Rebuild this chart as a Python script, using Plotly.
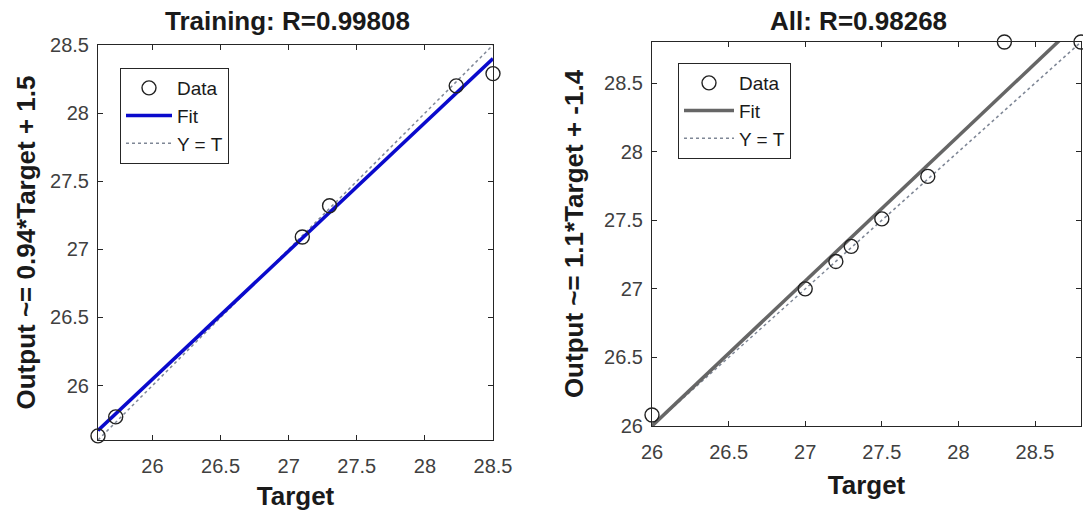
import plotly.graph_objects as go

# ---- data ----
train_target = [25.6, 25.73, 27.1, 27.3, 28.23, 28.5]
train_output = [25.63, 25.77, 27.09, 27.32, 28.2, 28.29]
train_fit_x = [25.6, 28.5]
train_fit_y = [25.67, 28.4]
train_range = [25.6, 28.5]
train_title = "Training: R=0.99808"
train_ylabel = "Output ~= 0.94*Target + 1.5"

all_target = [26.0, 27.0, 27.2, 27.3, 27.5, 27.8, 28.3, 28.8]
all_output = [26.08, 27.0, 27.2, 27.31, 27.51, 27.82, 28.8, 28.8]
all_fit_x = [26.0, 28.8]
all_fit_y = [26.0, 28.96]
all_range = [26.0, 28.8]
all_title = "All: R=0.98268"
all_ylabel = "Output ~= 1.1*Target + -1.4"

ticks = [26, 26.5, 27, 27.5, 28, 28.5]
tick_text = ["26", "26.5", "27", "27.5", "28", "28.5"]

FONT = "Arial, Liberation Sans, sans-serif"
W, H = 1083, 515

fig = go.Figure()

def add_panel(xa, ya, legend, tgt, out, fx, fy, rng, fitcolor):
    fig.add_trace(go.Scatter(x=rng, y=rng, mode="lines", name="Y = T",
                             line=dict(color="#7f8796", width=1.5, dash="dot"),
                             xaxis=xa, yaxis=ya, legend=legend, legendrank=3))
    fig.add_trace(go.Scatter(x=fx, y=fy, mode="lines", name="Fit",
                             line=dict(color=fitcolor, width=3.5),
                             xaxis=xa, yaxis=ya, legend=legend, legendrank=2))
    fig.add_trace(go.Scatter(x=tgt, y=out, mode="markers", name="Data",
                             marker=dict(symbol="circle-open", size=14,
                                         color="#222222", line=dict(width=1.4)),
                             cliponaxis=False,
                             xaxis=xa, yaxis=ya, legend=legend, legendrank=1))

add_panel("x", "y", "legend", train_target, train_output,
          train_fit_x, train_fit_y, train_range, "#0a0acc")
add_panel("x2", "y2", "legend2", all_target, all_output,
          all_fit_x, all_fit_y, all_range, "#666666")

axis_common = dict(
    showgrid=False, zeroline=False, showline=True, linecolor="#262626",
    linewidth=1, mirror="ticks", ticks="inside", ticklen=5, tickcolor="#262626",
    tickvals=ticks, ticktext=tick_text, automargin=False,
    tickfont=dict(family=FONT, size=20, color="#404040"),
)

L = dict(x0=98, x1=493, y0=45, y1=440)
R = dict(x0=652, x1=1081, y0=42, y1=426)

def dom_x(p):
    return [p["x0"] / W, p["x1"] / W]

def dom_y(p):
    return [1 - p["y1"] / H, 1 - p["y0"] / H]

title_font = dict(family=FONT, size=26, color="#1a1a1a")

legend_common = dict(
    xanchor="left", yanchor="top", bgcolor="white", bordercolor="#262626",
    borderwidth=1, font=dict(family=FONT, size=19, color="#1a1a1a"),
    tracegroupgap=0,
)

fig.update_layout(
    width=W, height=H,
    margin=dict(l=0, r=0, t=0, b=0, autoexpand=False),
    paper_bgcolor="white", plot_bgcolor="white",
    xaxis=dict(domain=dom_x(L), range=train_range, anchor="y", ticklabelstandoff=8,
               title=dict(text="<b>Target</b>", font=title_font, standoff=10),
               **axis_common),
    yaxis=dict(domain=dom_y(L), range=train_range, anchor="x", ticklabelstandoff=4,
               title=dict(text="<b>" + train_ylabel + "</b>", font=title_font, standoff=6),
               **axis_common),
    xaxis2=dict(domain=dom_x(R), range=all_range, anchor="y2", ticklabelstandoff=8,
                title=dict(text="<b>Target</b>", font=title_font, standoff=13),
                **axis_common),
    yaxis2=dict(domain=dom_y(R), range=all_range, anchor="x2", ticklabelstandoff=4,
                title=dict(text="<b>" + all_ylabel + "</b>", font=title_font, standoff=12),
                **axis_common),
    legend=dict(x=120 / W, y=1 - 68 / H, itemwidth=46, **legend_common),
    legend2=dict(x=678 / W, y=1 - 63 / H, itemwidth=50, **legend_common),
    annotations=[
        dict(text="<b>" + train_title + "</b>", x=287 / W, y=1 - 21 / H,
             xref="paper", yref="paper", xanchor="center", yanchor="middle",
             showarrow=False, font=dict(family=FONT, size=26, color="#1a1a1a")),
        dict(text="<b>" + all_title + "</b>", x=858 / W, y=1 - 21 / H,
             xref="paper", yref="paper", xanchor="center", yanchor="middle",
             showarrow=False, font=dict(family=FONT, size=26, color="#1a1a1a")),
    ],
)

fig.write_html("out.html", config={"displayModeBar": False},
               post_script="document.body.style.margin='0';document.body.style.overflow='hidden';")
